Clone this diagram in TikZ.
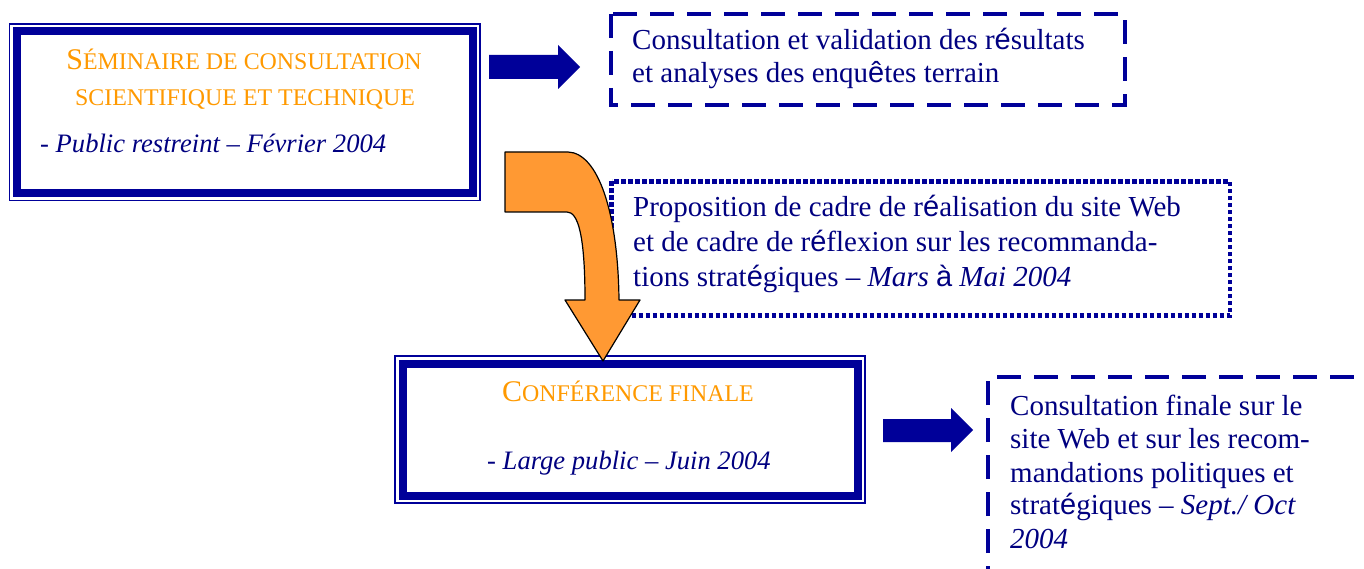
\documentclass[tikz,border=0pt]{standalone}
\usepackage{fontspec}
\setmainfont{Liberation Serif}
\newfontfamily\accsansfont{Liberation Sans}
\newcommand{\acs}[1]{{\accsansfont #1}}
\definecolor{dblue}{RGB}{0,0,153}
\definecolor{navytxt}{RGB}{0,0,128}
\definecolor{orangetxt}{RGB}{255,153,0}
\definecolor{orarrow}{RGB}{255,153,51}
\tikzset{
  frameThin/.style={draw=dblue, line width=1.3pt},
  frameThick/.style={draw=dblue, line width=8pt},
  dashbox/.style={draw=dblue, line width=3.3pt, dash pattern=on 24pt off 13pt},
  dotbox/.style={draw=dblue, line width=4.6pt, dash pattern=on 4.2pt off 2.8pt},
  blockarrow/.style={fill=dblue},
  bendarrow/.style={fill=orarrow, draw=black, line width=1.2pt, line join=round},
  bodytxt/.style={inner sep=0pt, anchor=base west, text=navytxt, font=\fontsize{29}{33}\selectfont},
  boxital/.style={inner sep=0pt, anchor=base west, text=navytxt, font=\fontsize{26.6}{30}\selectfont\itshape},
  titletxt/.style={inner sep=0pt, anchor=base, text=orangetxt},
}
\newcommand{\bigc}[1]{{\fontsize{30}{34}\selectfont #1}}
\newcommand{\smc}[1]{{\fontsize{23.9}{28}\selectfont #1}}
\begin{document}
\begin{tikzpicture}[x=1pt,y=-1pt]
\useasboundingbox (0,0) rectangle (1364,569);

% Box 1
\draw[frameThin] (9.5,24) rectangle (480,200.5);
\draw[frameThick] (17,31.5) rectangle (472.5,193);
\node[titletxt] (t1a) at (244,70) {\bigc{S}\smc{ÉMINAIRE DE CONSULTATION}};
\node[titletxt] (t1b) at (245,106) {\smc{SCIENTIFIQUE ET TECHNIQUE}};
\node[boxital] (t1c) at (40,153) {- Public restreint – Février 2004};

% Arrow 1
\fill[blockarrow] (489,55) -- (558,55) -- (558,45) -- (580,67) -- (558,89) -- (558,79) -- (489,79) -- cycle;

% Box 2
\draw[dashbox] (611,14) rectangle (1125,105);
\node[bodytxt] (t2a) at (632,50) {Consultation et validation des r\acs{é}sultats};
\node[bodytxt] (t2b) at (632,83) {et analyses des enqu\acs{ê}tes terrain};

% Box 3
\draw[dotbox] (611.5,181.5) rectangle (1230,315.5);
\node[bodytxt] (t3a) at (633,217) {Proposition de cadre de r\acs{é}alisation du site Web};
\node[bodytxt] (t3b) at (633,251.5) {et de cadre de r\acs{é}flexion sur les recommanda-};
\node[bodytxt] (t3c) at (633,286.5) {tions strat\acs{é}giques – \textit{Mars} \acs{à} \textit{Mai 2004}};

% Box 4
\draw[frameThin] (395,356) rectangle (865,503);
\draw[frameThick] (402.5,363.5) rectangle (857.5,495.5);
\node[titletxt] (t4a) at (628,401) {\bigc{C}\smc{ONFÉRENCE FINALE}};
\node[boxital] (t4b) at (487,469) {- Large public – Juin 2004};

% Arrow 2
\fill[blockarrow] (883,419) -- (951,419) -- (951,408) -- (973,430) -- (951,452) -- (951,442) -- (883,442) -- cycle;

% Box 5
\draw[dashbox] (988,590) -- (988,377) -- (1380,377);
\node[bodytxt] (t5a) at (1010,415) {Consultation finale sur le};
\node[bodytxt] (t5b) at (1010,448) {site Web et sur les recom-};
\node[bodytxt] (t5c) at (1010,482) {mandations politiques et};
\node[bodytxt] (t5d) at (1010,514.5) {strat\acs{é}giques – \textit{Sept./ Oct}};
\node[bodytxt] (t5e) at (1010,548) {\textit{2004}};

% Orange bent arrow
\draw[bendarrow] (505,152) -- (568,152) .. controls (598,153) and (618,212) .. (619,300)
  -- (640,300) -- (603,361) -- (565,300) -- (585,300)
  .. controls (585,235) and (578,212) .. (567,212) -- (505,212) -- cycle;
\end{tikzpicture}
\end{document}
